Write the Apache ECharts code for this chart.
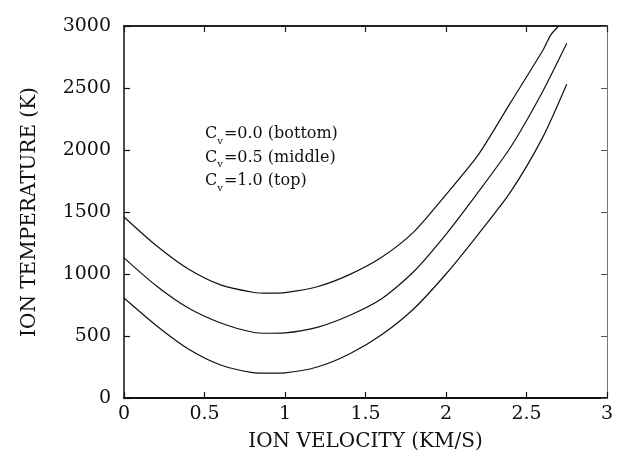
<!DOCTYPE html>
<html>
<head>
<meta charset="utf-8">
<script src="https://cdn.jsdelivr.net/npm/echarts@6/dist/echarts.min.js"></script>
<style>
html,body{margin:0;padding:0;background:#fff;}
#chart{width:628px;height:467px;}
</style>
</head>
<body>
<div id="chart"></div>
<script>
// Data
const velocityTop = [0, 0.2, 0.4, 0.6, 0.8, 0.9, 1.0, 1.2, 1.4, 1.6, 1.8, 2.0, 2.2, 2.4, 2.6, 2.65, 2.7];
const tempTop     = [1460, 1230, 1040, 912, 853, 845, 850, 897, 995, 1135, 1340, 1640, 1960, 2380, 2800, 2927, 3000];
const velocityMid = [0, 0.2, 0.4, 0.6, 0.8, 0.9, 1.0, 1.2, 1.4, 1.6, 1.8, 2.0, 2.2, 2.4, 2.6, 2.75];
const tempMid     = [1130, 905, 725, 605, 530, 522, 525, 570, 665, 800, 1020, 1320, 1660, 2020, 2470, 2860];
const velocityBot = [0, 0.2, 0.4, 0.6, 0.8, 0.9, 1.0, 1.2, 1.4, 1.6, 1.8, 2.0, 2.2, 2.4, 2.6, 2.75];
const tempBot     = [806, 585, 395, 266, 205, 200, 203, 250, 355, 510, 720, 1000, 1320, 1660, 2100, 2530];
const annotations = ['=0.0 (bottom)', '=0.5 (middle)', '=1.0 (top)'];

function pairs(xs, ys) { return xs.map((x, i) => [x, ys[i]]); }

const FONT = 'DejaVu Serif';
const chart = echarts.init(document.getElementById('chart'));

const lineSeries = (data) => ({
  type: 'line', data: data, showSymbol: false, symbol: 'none',
  smooth: 0.25,
  lineStyle: {color: '#111', width: 1.2},
  xAxisIndex: 0, yAxisIndex: 0, silent: true, animation: false
});

chart.setOption({
  animation: false,
  backgroundColor: '#fff',
  grid: {left: 124, right: 21, top: 26, bottom: 69},
  xAxis: [{
    type: 'value', min: 0, max: 3, interval: 0.5, position: 'bottom',
    name: 'ION VELOCITY (KM/S)', nameLocation: 'middle', nameGap: 34,
    nameTextStyle: {fontFamily: FONT, fontSize: 20, color: '#111'},
    axisLine: {show: true, onZero: false, lineStyle: {color: '#111', width: 2}},
    axisTick: {show: true, inside: true, length: 6, lineStyle: {color: '#111', width: 1.2}},
    axisLabel: {fontFamily: FONT, fontSize: 19, color: '#111', margin: 7,
      formatter: v => String(v)},
    splitLine: {show: false}
  }, {
    type: 'value', min: 0, max: 3, interval: 0.5, position: 'top',
    axisLine: {show: true, onZero: false, lineStyle: {color: '#222', width: 2}},
    axisTick: {show: true, inside: true, length: 6, lineStyle: {color: '#222', width: 1.2}},
    axisLabel: {show: false}, splitLine: {show: false}
  }],
  yAxis: [{
    type: 'value', min: 0, max: 3000, interval: 500, position: 'left',
    name: 'ION TEMPERATURE (K)', nameLocation: 'middle', nameGap: 84,
    nameTextStyle: {fontFamily: FONT, fontSize: 20, color: '#111'},
    axisLine: {show: true, onZero: false, lineStyle: {color: '#111', width: 1.5}},
    axisTick: {show: true, inside: true, length: 6, lineStyle: {color: '#111', width: 1.2}},
    axisLabel: {fontFamily: FONT, fontSize: 19, color: '#111', margin: 13,
      formatter: v => String(v)},
    splitLine: {show: false}
  }, {
    type: 'value', min: 0, max: 3000, interval: 500, position: 'right',
    axisLine: {show: true, onZero: false, lineStyle: {color: '#777', width: 1}},
    axisTick: {show: true, inside: true, length: 6, lineStyle: {color: '#555', width: 1}},
    axisLabel: {show: false}, splitLine: {show: false}
  }],
  series: [
    lineSeries(pairs(velocityBot, tempBot)),
    lineSeries(pairs(velocityMid, tempMid)),
    lineSeries(pairs(velocityTop, tempTop))
  ],
  graphic: annotations.map((t, i) => ({
    type: 'text', left: 205, top: 126 + i * 23.5, silent: true,
    style: {
      text: '{c|C}{s|v}{n|' + t + '}',
      rich: {
        c: {fontFamily: FONT, fontSize: 16, fill: '#111', lineHeight: 20, verticalAlign: 'bottom'},
        s: {fontFamily: FONT, fontSize: 10, fill: '#111', lineHeight: 20, verticalAlign: 'bottom', padding: [0, 1, -4, 0]},
        n: {fontFamily: FONT, fontSize: 16, fill: '#111', lineHeight: 20, verticalAlign: 'bottom'}
      }
    }
  }))
});
</script>
</body>
</html>
